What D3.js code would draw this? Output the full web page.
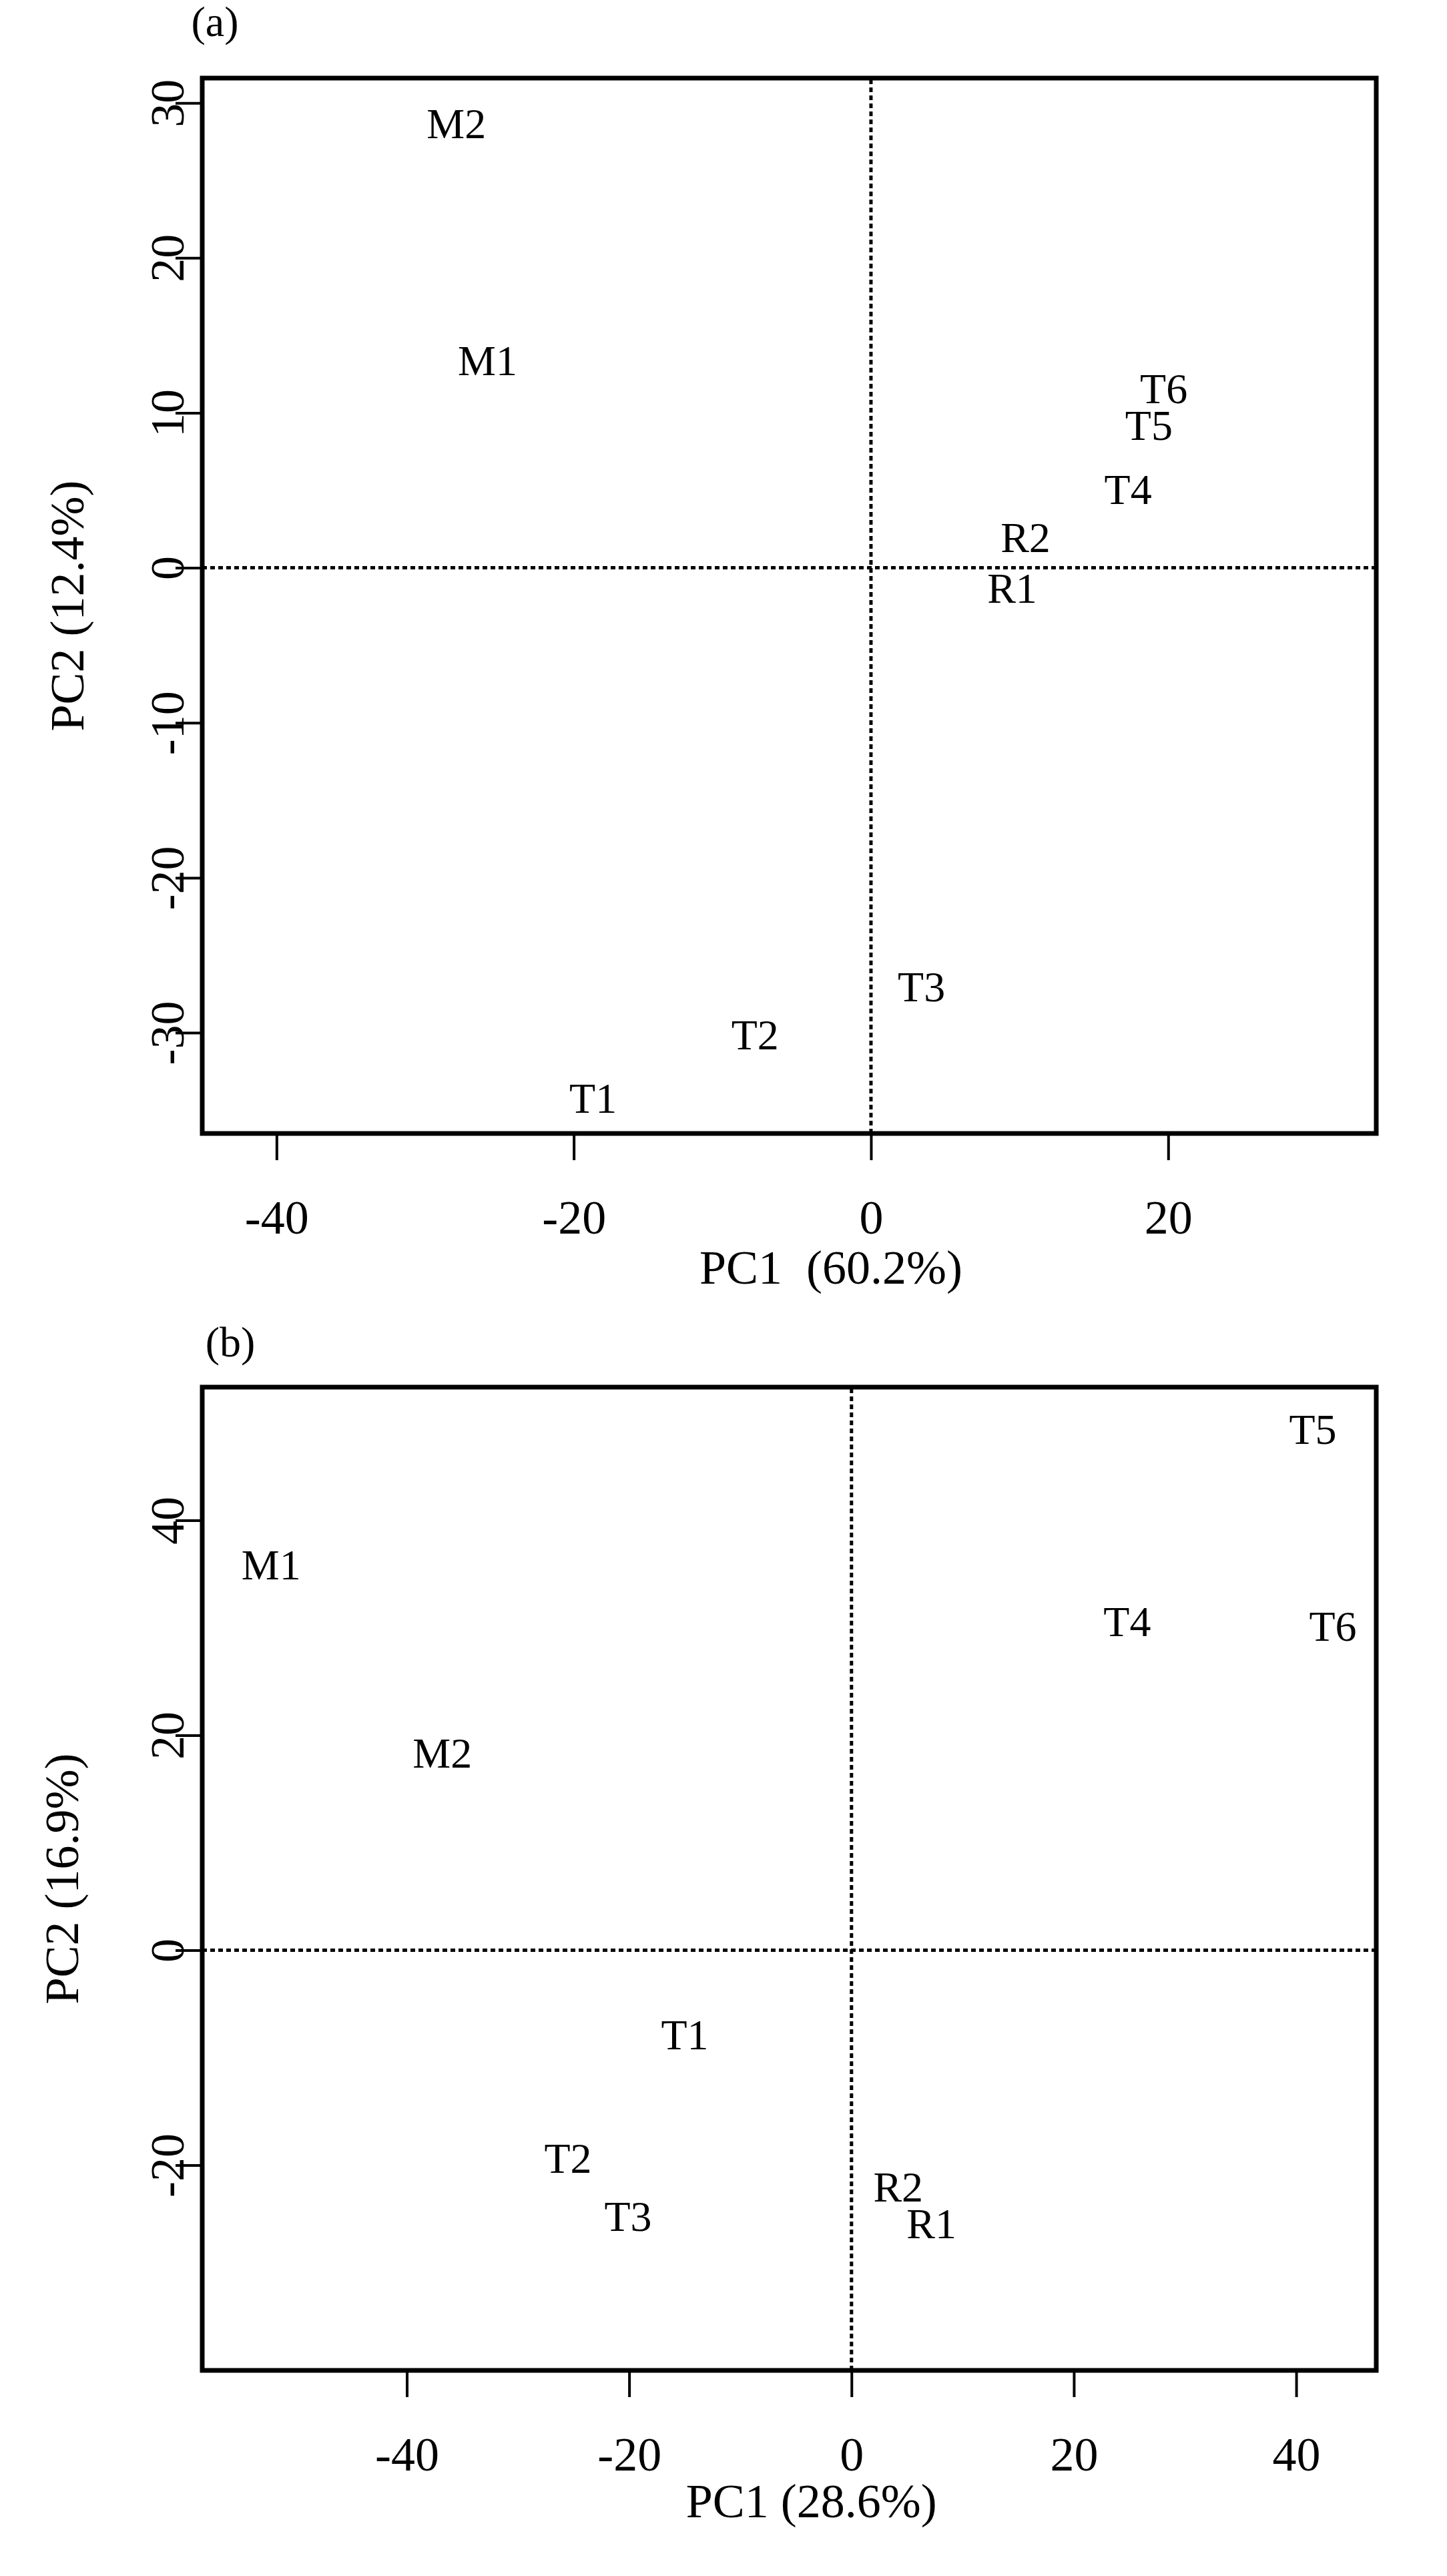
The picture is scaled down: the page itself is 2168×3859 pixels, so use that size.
<!DOCTYPE html>
<html><head><meta charset="utf-8">
<script src="https://cdn.jsdelivr.net/npm/d3@7/dist/d3.min.js"></script>
<style>body{margin:0;background:#fff}</style></head>
<body><svg id="c" width="2168" height="3859"></svg>
<script>
// Panel (a)
const aLabels = ["M2","M1","T6","T5","T4","R2","R1","T3","T2","T1"];
const aPC1 = [-27.9,-25.8,19.7,18.7,17.3,10.4,9.5,3.4,-7.8,-18.7];
const aPC2 = [28.7,13.4,11.6,9.2,5.1,2.0,-1.3,-27.0,-30.1,-34.2];
const aXTicks = [-40,-20,0,20];
const aYTicks = [-30,-20,-10,0,10,20,30];
// Panel (b)
const bLabels = ["T5","M1","T4","T6","M2","T1","T2","T3","R2","R1"];
const bPC1 = [41.5,-52.2,24.8,43.3,-36.8,-15.0,-25.5,-20.1,4.2,7.2];
const bPC2 = [48.5,35.9,30.6,30.2,18.4,-7.8,-19.3,-24.7,-22.0,-25.4];
const bXTicks = [-40,-20,0,20,40];
const bYTicks = [-20,0,20,40];

const svg = d3.select("#c");
const font = "Liberation Serif, Times New Roman, serif";
const fmt = d => String(d);

function panel(o){
  const g = svg.append("g");
  const x = d3.scaleLinear().domain(o.xd).range([303,2062]);
  const y = d3.scaleLinear().domain(o.yd).range([o.bottom,o.top]);
  g.append("line").attr("x1",x(o.xd[0])).attr("x2",x(o.xd[1])).attr("y1",y(0)).attr("y2",y(0))
    .attr("stroke","#000").attr("stroke-width",5).attr("stroke-dasharray","7,5");
  g.append("line").attr("x1",x(0)).attr("x2",x(0)).attr("y1",y(o.yd[0])).attr("y2",y(o.yd[1]))
    .attr("stroke","#000").attr("stroke-width",5).attr("stroke-dasharray","7,5");
  const xa = g.append("g").attr("transform",`translate(0,${o.bottom})`)
    .call(d3.axisBottom(x).tickValues(o.xt).tickSize(40).tickSizeOuter(0).tickFormat(fmt));
  xa.selectAll("text").attr("y",o.xTickY-o.bottom).attr("dy","0.35em");
  const ya = g.append("g").attr("transform",`translate(303,0)`)
    .call(d3.axisLeft(y).tickValues(o.yt).tickSize(40).tickSizeOuter(0).tickFormat(fmt));
  [xa,ya].forEach(a=>{a.select(".domain").remove();a.selectAll("line").attr("stroke-width",4);
    a.selectAll("text").attr("font-family",font).attr("font-size",72).attr("fill","#000");});
  ya.selectAll("text").attr("x",0).attr("y",0).attr("dy","0.35em").attr("text-anchor","middle")
    .attr("transform",`translate(${o.yTickX-303},0) rotate(-90)`);
  g.append("rect").attr("x",303).attr("y",o.top).attr("width",2062-303).attr("height",o.bottom-o.top)
    .attr("fill","none").attr("stroke","#000").attr("stroke-width",7);
  g.selectAll("text.pt").data(o.labels).enter().append("text").attr("class","pt")
    .attr("x",(d,i)=>x(o.px[i])).attr("y",(d,i)=>y(o.py[i])).attr("dy","0.35em")
    .attr("text-anchor","middle").attr("font-family",font).attr("font-size",64).text(d=>d);
  g.append("text").attr("x",x(0)-60).attr("y",o.xTitleY).attr("dy","0.35em").attr("text-anchor","middle")
    .attr("font-family",font).attr("font-size",72).attr("xml:space","preserve").text(o.xTitle);
  g.append("text").attr("transform",`translate(${o.yTitleX},${(o.top+o.bottom)/2}) rotate(-90)`)
    .attr("dy","0.35em").attr("text-anchor","middle").attr("font-family",font).attr("font-size",72).text(o.yTitle);
  g.append("text").attr("x",o.tagX).attr("y",o.tagY).attr("dy","0.35em").attr("text-anchor","middle")
    .attr("font-family",font).attr("font-size",64).text(o.tag);
}
panel({xd:[-45,34],yd:[-36.5,31.6],top:117,bottom:1698,xt:aXTicks,yt:aYTicks,xTickY:1823,yTickX:250,
  labels:aLabels,px:aPC1,py:aPC2,xTitle:"PC1  (60.2%)",yTitle:"PC2 (12.4%)",xTitleY:1898,yTitleX:100,tag:"(a)",tagX:322,tagY:32});
panel({xd:[-58.4,47.2],yd:[-39.1,52.4],top:2078,bottom:3551,xt:bXTicks,yt:bYTicks,xTickY:3676,yTickX:250,
  labels:bLabels,px:bPC1,py:bPC2,xTitle:"PC1 (28.6%)",yTitle:"PC2 (16.9%)",xTitleY:3746,yTitleX:92,tag:"(b)",tagX:345,tagY:2010});
</script></body></html>
